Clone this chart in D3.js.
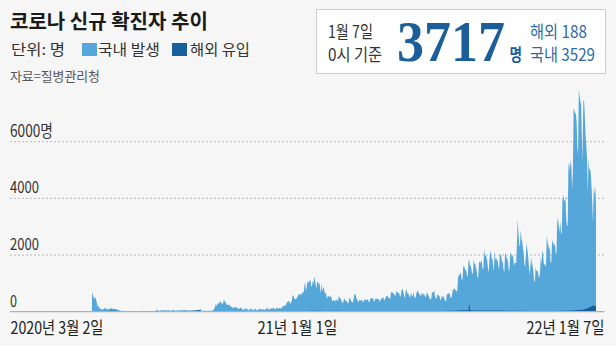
<!DOCTYPE html>
<html>
<head>
<meta charset="utf-8">
<script src="https://cdn.jsdelivr.net/npm/d3@7"></script>
<style>
  body { margin: 0; background: #f6f6f6; }
  svg { display: block; font-family: "Noto Sans CJK KR", "Noto Sans", sans-serif; }
</style>
</head>
<body>
<svg id="chart" width="616" height="346"></svg>
<script>
// ── 데이터 ──────────────────────────────────────────────
// 월별 시작일 (첫 달은 3월 2일부터)
const monthStarts = [
  "2020-03-02","2020-04-01","2020-05-01","2020-06-01","2020-07-01","2020-08-01",
  "2020-09-01","2020-10-01","2020-11-01","2020-12-01",
  "2021-01-01","2021-02-01","2021-03-01","2021-04-01","2021-05-01","2021-06-01",
  "2021-07-01","2021-08-01","2021-09-01","2021-10-01","2021-11-01","2021-12-01",
  "2022-01-01"
];
// 일별 신규 확진자 (국내 발생 + 해외 유입)
const dailyTotal = [
  [686,600,516,438,518,483,367,248,131,242,114,110,107,76,74,84,93,152,87,147,98,64,76,100,104,91,146,105,78,125],
  [101,89,86,94,81,47,47,53,39,27,30,32,25,27,27,22,22,18,8,13,9,11,8,6,10,10,10,14,9,4],
  [9,6,13,8,3,2,4,12,18,34,35,27,26,29,27,19,13,15,13,32,12,20,23,25,16,19,40,79,58,39,27],
  [35,38,49,39,39,51,57,38,38,50,45,56,49,37,34,37,43,59,49,67,48,17,46,51,28,39,51,62,42,43],
  [51,54,63,63,61,48,44,63,50,45,35,44,62,33,39,61,60,39,34,26,45,63,59,41,113,58,25,28,48,18,36],
  [31,30,23,34,33,43,20,36,28,34,54,56,103,166,279,197,246,297,288,324,332,397,266,280,320,441,371,323,299,248,238],
  [235,267,195,198,168,167,119,136,156,155,176,136,121,109,106,113,153,126,110,82,70,61,110,125,114,61,95,50,38,113],
  [113,77,63,75,64,73,114,69,54,72,58,98,102,84,110,47,73,91,76,58,89,121,155,77,61,119,88,103,125,114,127],
  [124,97,75,118,125,145,89,143,126,100,146,143,191,205,208,223,230,313,343,363,386,330,271,349,382,583,569,504,450,438],
  [451,511,540,629,583,631,615,594,686,682,689,950,1030,718,880,1078,1014,1064,1097,1097,926,869,1090,985,1241,1132,970,808,1046,1050,967],
  [1027,820,657,1020,715,840,869,674,641,665,451,537,562,524,513,580,520,389,386,404,400,346,431,392,437,349,559,497,469,458,355],
  [305,336,467,451,370,393,372,289,303,444,504,403,362,326,344,457,621,621,561,448,416,332,356,440,396,406,415,355],
  [344,444,424,398,418,416,446,346,330,446,470,465,488,459,382,363,469,445,463,452,456,415,346,428,430,494,505,482,384,447,506],
  [551,558,543,477,473,478,668,700,671,677,614,587,542,731,698,673,658,672,532,549,731,797,785,644,499,512,775,769,661,627],
  [606,488,541,676,574,525,701,564,463,511,635,715,747,681,610,619,528,654,646,561,666,585,530,516,707,629,587,533,480,430,459],
  [677,681,695,744,556,485,454,602,610,565,556,452,399,545,540,545,507,429,357,395,645,610,634,668,614,482,501,595,794,762],
  [826,794,743,711,746,1212,1275,1316,1378,1324,1100,1150,1615,1600,1536,1452,1454,1252,1278,1784,1842,1630,1629,1487,1318,1365,1896,1674,1710,1539,1442],
  [1218,1202,1725,1776,1704,1823,1729,1492,1537,2223,1987,1990,1928,1816,1556,1372,1805,2152,2052,1880,1882,1628,1418,2155,1841,1882,1840,1793,1619,1487,2025],
  [2024,1961,1709,1804,1490,1375,2050,2049,1892,1865,1755,1433,1497,2080,2057,1943,2008,1909,1604,1729,1720,1716,2434,3273,2771,2383,2289,2885,2564,2486],
  [2248,2085,1673,1575,2028,2427,2175,1953,1594,1297,1584,1940,1684,1618,1420,1073,1050,1571,1441,1439,1423,1266,1190,1423,1952,1700,2111,2124,1686,1685,1589],
  [1686,2667,2482,2344,2248,2224,1758,1715,2425,2520,2368,2324,2419,2006,2125,3187,3292,3034,2805,3205,2827,2699,3938,4116,3938,3901,4068,3309,3032,3032],
  [5123,5266,4944,5352,5128,4325,4954,7175,7102,7022,6977,6689,5817,5567,7850,7622,7435,7314,6236,5318,7456,7455,6919,6233,5842,5419,4207,5409,5037,5034,4875],
  [4415,3833,3129,4443,4126,4444,3717]
];
// 해외 유입 (표본 날짜별)
const overseasDates = [
  "2020-03-02","2020-03-16","2020-03-23","2020-03-30","2020-04-06","2020-04-20","2020-05-04","2020-05-18",
  "2020-06-01","2020-06-15","2020-06-29","2020-07-13","2020-07-24","2020-07-27","2020-08-10","2020-08-24",
  "2020-09-07","2020-09-21","2020-10-05","2020-10-19","2020-11-02","2020-11-16","2020-11-30","2020-12-14",
  "2020-12-28","2021-01-11","2021-01-25","2021-02-08","2021-02-22","2021-03-08","2021-03-22","2021-04-05",
  "2021-04-19","2021-05-03","2021-05-17","2021-05-31","2021-06-14","2021-06-28","2021-07-12","2021-07-20",
  "2021-07-21","2021-07-22","2021-08-02","2021-08-16","2021-08-30","2021-09-13","2021-09-27","2021-10-11",
  "2021-10-25","2021-11-08","2021-11-22","2021-12-06","2021-12-20","2021-12-27","2022-01-03","2022-01-07"
];
const overseasValues = [
  5,15,30,40,25,8,4,8,
  12,15,20,25,60,20,15,15,
  15,15,18,20,18,20,20,25,
  30,25,30,20,15,20,20,20,
  20,20,20,20,25,30,50,55,
  330,55,45,40,40,30,30,25,
  25,20,30,40,70,120,220,188
];

const yTicks = [0, 2000, 4000, 6000];
const yTickLabels = ["0", "2000", "4000", "6000명"];
const xTickDates = ["2020-03-02", "2021-01-01", "2022-01-07"];
const xTickLabels = ["2020년 3월 2일", "21년 1월 1일", "22년 1월 7일"];

// ── 상수 ──────────────────────────────────────────────────
const LIGHT = "#55a7da", DARK = "#17609b", BLUE = "#1b5e99";
const AXIS_L = 10, AXIS_R = 604.5;

const parse = d3.timeParse("%Y-%m-%d");

// 일별 포인트로 펼치기
const totalPoints = [];
dailyTotal.forEach((month, m) => {
  const start = parse(monthStarts[m]);
  month.forEach((v, i) => totalPoints.push({ date: d3.timeDay.offset(start, i), value: v }));
});
const overseasPoints = overseasDates.map((d, i) => ({ date: parse(d), value: overseasValues[i] }));

const svg = d3.select("#chart");

const x = d3.scaleTime()
  .domain([parse("2020-03-02"), parse("2022-01-07")])
  .range([92, 596]);
const y = d3.scaleLinear().domain([0, 6000]).range([311.7, 141.7]);

// 텍스트 헬퍼: 원본의 좁은 글꼴처럼 가로로 눌러서 폭(len)에 맞춤
function label(g, tx, ty, str, size, len, opts = {}) {
  const t = g.append("text")
    .attr("font-size", size)
    .attr("fill", opts.fill || "#222")
    .attr("font-weight", opts.weight || "normal")
    .text(str);
  if (opts.family) t.attr("font-family", opts.family);
  const w = t.node().getComputedTextLength();
  const sx = len ? len / w : 1;
  const left = opts.anchor === "end" ? tx - w * sx : tx;
  t.attr("transform", `translate(${left},${ty}) scale(${sx},1)`);
  return t;
}

// ── 제목 / 범례 ──
label(svg, 10, 29, "코로나 신규 확진자 추이", 20, 198, { weight: "bold", fill: "#1a1a1a" });
label(svg, 11, 55, "단위: 명", 15, 54, { fill: "#333" });
svg.append("rect").attr("x", 82).attr("y", 43).attr("width", 15).attr("height", 13).attr("fill", LIGHT);
label(svg, 98, 55, "국내 발생", 15, 62, { fill: "#333" });
svg.append("rect").attr("x", 172).attr("y", 43).attr("width", 15).attr("height", 13).attr("fill", DARK);
label(svg, 190, 55, "해외 유입", 15, 60, { fill: "#333" });
label(svg, 10, 81, "자료=질병관리청", 13, 90, { fill: "#555" });

// ── 오른쪽 요약 상자 ──
svg.append("rect").attr("x", 316.5).attr("y", 9.5).attr("width", 289).attr("height", 64)
  .attr("fill", "#fff").attr("stroke", "#cfcfcf");
label(svg, 328, 37.5, "1월 7일", 17, 45, { fill: "#333" });
label(svg, 328, 60.5, "0시 기준", 17, 54, { fill: "#333" });
label(svg, 505, 61.3, "3717", 58, 108, { family: "'Liberation Serif', serif", weight: "bold", fill: BLUE, anchor: "end" });
label(svg, 509.5, 61, "명", 16.5, 12.5, { weight: "bold", fill: BLUE });
label(svg, 530, 37.5, "해외 188", 17, 57, { fill: "#2d6aa6" });
label(svg, 530, 60.5, "국내 3529", 17, 65, { fill: "#2d6aa6" });

// ── 격자선 ──
svg.append("g").selectAll("line")
  .data(yTicks.filter(d => d > 0))
  .join("line")
  .attr("x1", AXIS_L).attr("x2", AXIS_R)
  .attr("y1", d => y(d)).attr("y2", d => y(d))
  .attr("stroke", "#b8b8b8").attr("stroke-dasharray", "2,2");

// y축 라벨
const yLabelLen = { "0": 7, "2000": 29, "4000": 29, "6000명": 43 };
yTicks.forEach((t, i) => {
  label(svg, AXIS_L, y(t) - 5, yTickLabels[i], 17, yLabelLen[yTickLabels[i]], { fill: "#333" });
});

// ── 영역 ──
const area = d3.area()
  .x(d => x(d.date))
  .y0(y(0))
  .y1(d => y(d.value));

svg.append("path").datum(totalPoints).attr("d", area).attr("fill", LIGHT);
svg.append("path").datum(overseasPoints).attr("d", area).attr("fill", DARK);

// 기준선
svg.append("line")
  .attr("x1", AXIS_L).attr("x2", AXIS_R)
  .attr("y1", y(0)).attr("y2", y(0))
  .attr("stroke", "#b0b0b0").attr("stroke-width", 1.2);

// x축 라벨: 처음은 왼쪽 끝, 마지막은 오른쪽 끝에 맞춤
const xLabelLen = [93, 80, 78];
xTickDates.forEach((d, i) => {
  let lx, anchor = "start";
  if (i === 0) lx = AXIS_L + 0.5;
  else if (i === xTickDates.length - 1) { lx = AXIS_R; anchor = "end"; }
  else lx = x(parse(d)) - 22 - xLabelLen[i] / 2;
  label(svg, lx, 333.5, xTickLabels[i], 17, xLabelLen[i], { fill: "#222", anchor });
});
</script>
</body>
</html>
